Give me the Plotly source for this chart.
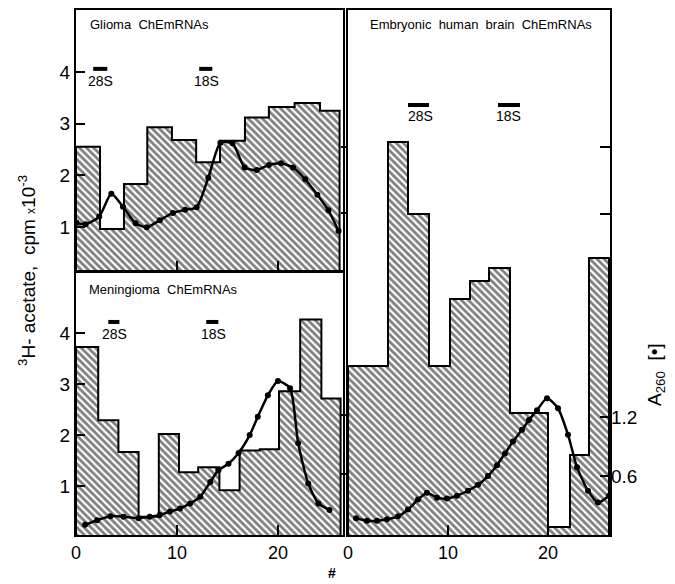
import plotly.graph_objects as go

# page body has an 8px margin, so the figure is drawn 8px smaller and offset
OFF = 8
W, H = 675 - OFF, 584 - OFF

# ---------------- data ----------------
# Glioma (top-left) : 3H-acetate histogram (cpm x10^-3)
glioma_edges = [0, 2.38, 4.75, 7.06, 9.5, 11.9, 14.26, 16.73, 19.1, 21.65, 24.16, 26.1]
glioma_cpm = [2.55, 0.96, 1.83, 2.93, 2.68, 2.25, 2.67, 3.12, 3.32, 3.40, 3.25]
glioma_frac = [0.05, 0.95, 2.3, 3.5, 4.65, 5.9, 7.0, 8.3, 9.6, 10.8, 11.95, 13.1,
               14.3, 15.5, 16.7, 17.9, 19.1, 20.3, 21.5, 22.7, 23.9, 25.0, 26.0]
glioma_a260 = [1.08, 1.05, 1.2, 1.64, 1.39, 1.07, 0.99, 1.13, 1.27, 1.33, 1.38, 1.95,
               2.63, 2.62, 2.15, 2.10, 2.20, 2.23, 2.15, 1.92, 1.62, 1.32, 0.92]

# Meningioma (bottom-left)
mening_edges = [0, 2.2, 4.2, 6.2, 8.2, 10.2, 12.1, 14.2, 16.2, 18.2, 20.1, 22.2, 24.3, 26.2]
mening_cpm = [3.73, 2.29, 1.67, 0.40, 2.02, 1.27, 1.37, 0.92, 1.70, 1.72, 2.86, 4.27, 2.72]
mening_frac = [0.9, 2.1, 3.4, 4.7, 6.2, 7.3, 8.3, 9.3, 10.3, 11.3, 12.3, 13.3, 14.1, 15.1,
               16.1, 17.2, 18.0, 19.0, 20.0, 21.2, 22.0, 23.0, 24.0, 25.1]
mening_a260 = [0.24, 0.33, 0.41, 0.40, 0.37, 0.40, 0.43, 0.50, 0.56, 0.66, 0.79, 1.08, 1.31,
               1.44, 1.65, 2.0, 2.36, 2.78, 3.06, 2.92, 1.84, 1.05, 0.66, 0.53]

# Embryonic human brain (right)
embryo_edges = [0, 4.0, 6.0, 8.1, 10.2, 12.2, 14.1, 16.2, 20.0, 22.2, 24.1, 26.1]
embryo_cpm = [3.38, 7.86, 6.42, 3.38, 4.72, 5.08, 5.34, 2.44, 0.16, 1.60, 5.54]
embryo_frac = [0.8, 1.9, 2.9, 3.9, 5.0, 6.0, 7.0, 7.9, 8.9, 9.9, 10.9, 12.0, 13.0, 14.0,
               14.9, 15.7, 16.5, 17.4, 18.1, 18.9, 19.9, 21.0, 22.0, 22.9, 24.0, 25.0, 26.1]
embryo_a260 = [0.17, 0.145, 0.145, 0.16, 0.19, 0.26, 0.36, 0.43, 0.38, 0.37, 0.40, 0.45, 0.51,
               0.60, 0.71, 0.83, 0.95, 1.07, 1.17, 1.27, 1.39, 1.29, 1.02, 0.69, 0.45, 0.33, 0.40]

# 28S / 18S marker positions (start, end, level, label x, label y)
markers = {
    "gl": {"28S": (1.7, 3.1, 4.06, 2.4, 3.82), "18S": (12.2, 13.5, 4.06, 12.95, 3.82)},
    "me": {"28S": (3.2, 4.3, 4.22, 3.8, 3.99), "18S": (12.9, 14.1, 4.22, 13.6, 3.99)},
    "em": {"28S": (6.0, 8.1, 8.6, 7.2, 8.38), "18S": (15.0, 17.2, 8.6, 16.0, 8.38)},
}

panel_titles = ["Glioma  ChEmRNAs", "Meningioma  ChEmRNAs", "Embryonic  human  brain  ChEmRNAs"]
left_ticks = [1, 2, 3, 4]
x_ticks = [0, 10, 20]
a260_ticks = [0.6, 1.2, 3.27, 3.95]
a260_text = ["0.6", "1.2", "", ""]
gap_ticks = [1.22, 2.4, 6.44, 7.76]

FONT = "Liberation Sans"


def step_xy(edges, h):
    xs = [edges[0], edges[0]] + list(edges[1:-1]) + [edges[-1], edges[-1]]
    ys = [0] + list(h) + [h[-1], 0]
    return xs, ys


hatch = dict(shape="\\", fgcolor="black", bgcolor="white", size=5, solidity=0.55)

fig = go.Figure()


def add_panel(edges, cpm, frac, a260, xa, ya, ya_line):
    xs, ys = step_xy(edges, cpm)
    fig.add_trace(go.Scatter(x=xs, y=ys, mode="lines", line=dict(color="black", width=2, shape="hv"),
                             fill="tozeroy", fillcolor="white", fillpattern=hatch,
                             xaxis=xa, yaxis=ya, showlegend=False, hoverinfo="skip"))
    fig.add_trace(go.Scatter(x=frac, y=a260, mode="lines+markers",
                             line=dict(color="black", width=2.5, shape="spline", smoothing=0.6),
                             marker=dict(color="black", size=6),
                             xaxis=xa, yaxis=ya_line, showlegend=False))


add_panel(glioma_edges, glioma_cpm, glioma_frac, glioma_a260, "x", "y", "y")
add_panel(mening_edges, mening_cpm, mening_frac, mening_a260, "x2", "y2", "y2")
add_panel(embryo_edges, embryo_cpm, embryo_frac, embryo_a260, "x3", "y3", "y4")

annotations = []
for key, xa, ya in [("gl", "x", "y"), ("me", "x2", "y2"), ("em", "x3", "y3")]:
    for name, (x0, x1, lev, tx, ty) in markers[key].items():
        fig.add_trace(go.Scatter(x=[x0, x1], y=[lev, lev], mode="lines",
                                 line=dict(color="black", width=4), xaxis=xa, yaxis=ya,
                                 showlegend=False, hoverinfo="skip"))
        annotations.append(dict(x=tx, y=ty, xref=xa, yref=ya, text=name, showarrow=False,
                                xanchor="center", yanchor="middle",
                                font=dict(family=FONT, size=14, color="black")))


def px_x(p):
    return (p - OFF) / W


def px_y(p):
    return 1 - (p - OFF) / H


def pa(x, y, text, size, angle=0, xanchor="center"):
    annotations.append(dict(x=px_x(x), y=px_y(y), xref="paper", yref="paper", xanchor=xanchor,
                            yanchor="middle", textangle=angle, text=text, showarrow=False,
                            font=dict(family=FONT, size=size, color="black")))


# panel titles
pa(88, 25, panel_titles[0], 13, xanchor="left")
pa(87, 290, panel_titles[1], 13, xanchor="left")
pa(368, 25, panel_titles[2], 13, xanchor="left")
# axis titles
pa(27, 271, "<sup>3</sup>H- acetate,  cpm <span style='font-size:12px'>x</span>10<sup>-3</sup>", 19, angle=-90)
pa(656, 375, "A<sub>260</sub>  [•]", 19, angle=-90)
pa(332, 573, "<b>#</b>", 14)

common_x = dict(showline=True, linecolor="black", linewidth=2, mirror=True, showgrid=False,
                zeroline=False, ticks="inside", ticklen=10, tickwidth=2, tickcolor="black",
                tickvals=x_ticks, tickfont=dict(family=FONT, size=18, color="black"))
common_y = dict(showline=True, linecolor="black", linewidth=2, mirror=True, showgrid=False,
                zeroline=False, tickcolor="black", tickwidth=2,
                tickfont=dict(family=FONT, size=19, color="black"))

LX0, LX1 = px_x(76), px_x(343)
RX0, RX1 = px_x(348), px_x(610)

fig.update_layout(
    width=W, height=H, margin=dict(l=0, r=0, t=0, b=0, autoexpand=False),
    paper_bgcolor="white", plot_bgcolor="white", showlegend=False,
    xaxis=dict(common_x, domain=[LX0, LX1], range=[0, 26.44], anchor="y", showticklabels=False),
    yaxis=dict(common_y, domain=[px_y(271), px_y(10)], range=[0.145, 5.2], anchor="x",
               ticks="inside", ticklen=9, tickvals=left_ticks),
    xaxis2=dict(common_x, domain=[LX0, LX1], range=[0, 26.44], anchor="y2"),
    yaxis2=dict(common_y, domain=[px_y(535), px_y(272)], range=[0.04, 5.2], anchor="x2",
                ticks="inside", ticklen=9, tickvals=left_ticks),
    xaxis3=dict(common_x, domain=[RX0, RX1], range=[0, 26.2], anchor="y3"),
    yaxis3=dict(common_y, domain=[px_y(535), px_y(10)], range=[0, 10.5], anchor="x3",
                ticks="outside", ticklen=5, tickvals=gap_ticks, showticklabels=False),
    yaxis4=dict(showline=False, showgrid=False, zeroline=False, overlaying="y3", side="right",
                anchor="x3", range=[0, 5.34], ticks="inside", ticklen=10, tickwidth=2,
                tickcolor="black", tickvals=a260_ticks, ticktext=a260_text,
                tickfont=dict(family=FONT, size=19, color="black")),
    annotations=annotations,
)

fig.write_html("out.html")
